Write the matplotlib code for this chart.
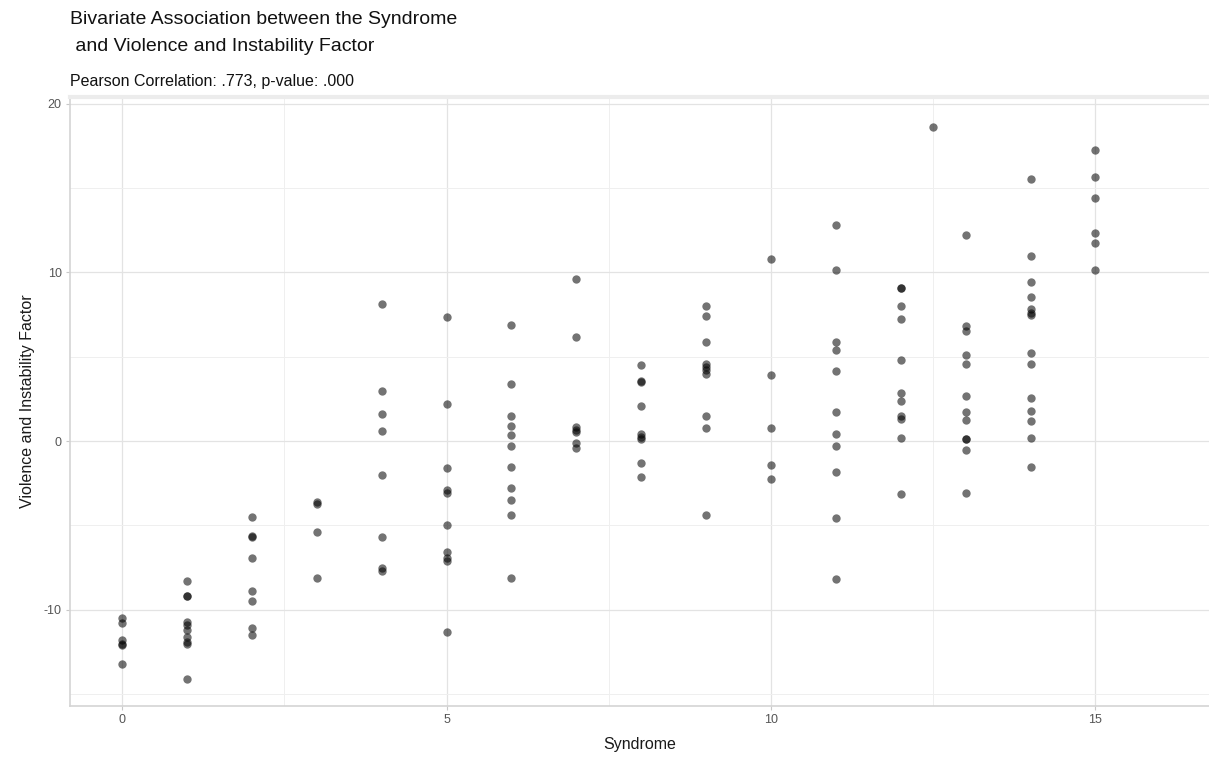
import numpy as np
import matplotlib
matplotlib.use("Agg")
import matplotlib.pyplot as plt
from matplotlib.ticker import MultipleLocator

plt.rcParams['font.family'] = ['Liberation Sans', 'DejaVu Sans']
plt.rcParams['axes.unicode_minus'] = False

# values, grouped by Syndrome score
syndrome_levels = [0, 1, 2, 3, 4, 5, 6, 7, 8, 9, 10, 11, 12, 12.5, 13, 14, 15]
factor_by_level = [
    [-10.5, -10.8, -11.8, -12.0, -12.1, -13.2],
    [-8.3, -9.2, -9.2, -10.7, -10.9, -11.2, -11.6, -11.9, -12.0, -14.1],
    [-4.5, -5.6, -5.7, -6.9, -8.9, -9.5, -11.1, -11.5],
    [-3.6, -3.7, -5.4, -8.1],
    [8.1, 3.0, 1.6, 0.6, -2.0, -5.7, -7.5, -7.7],
    [7.35, 2.2, -1.6, -2.9, -3.1, -5.0, -6.6, -6.9, -7.1, -11.3],
    [6.9, 3.4, 1.5, 0.9, 0.35, -0.3, -1.55, -2.8, -3.5, -4.4, -8.1],
    [9.6, 6.2, 0.85, 0.65, 0.55, -0.1, -0.4],
    [4.5, 3.55, 3.5, 2.1, 0.45, 0.25, 0.1, -1.3, -2.15],
    [8.0, 7.4, 5.9, 4.6, 4.4, 4.2, 3.95, 1.5, 0.75, -4.4],
    [10.8, 3.9, 0.8, -1.4, -2.25],
    [12.8, 10.15, 5.9, 5.4, 4.15, 1.7, 0.45, -0.3, -1.85, -4.55, -8.15],
    [9.1, 9.05, 8.0, 7.25, 4.8, 2.85, 2.4, 1.5, 1.3, 0.2, -3.15],
    [18.6],
    [12.2, 6.8, 6.55, 5.1, 4.6, 2.7, 1.75, 1.25, 0.15, 0.1, -0.5, -3.1],
    [15.55, 11.0, 9.45, 8.55, 7.85, 7.6, 7.45, 5.2, 4.55, 2.55, 1.8, 1.2, 0.2, -1.55],
    [17.25, 15.65, 14.4, 12.35, 11.75, 10.15],
]

syndrome = []
factor = []
for lvl, vals in zip(syndrome_levels, factor_by_level):
    for v in vals:
        syndrome.append(lvl)
        factor.append(v)

fig = plt.figure(figsize=(12.09, 7.64), dpi=100)
ax = fig.add_axes([0.058, 0.076, 0.942, 0.797])

ax.scatter(syndrome, factor, s=36, color='black', alpha=0.55, linewidths=0, zorder=3)

ax.set_xlim(-0.8, 16.75)
ax.set_ylim(-15.7, 20.4)
ax.xaxis.set_major_locator(MultipleLocator(5))
ax.xaxis.set_minor_locator(MultipleLocator(2.5))
ax.yaxis.set_major_locator(MultipleLocator(10))
ax.yaxis.set_minor_locator(MultipleLocator(5))

ax.grid(which='major', color='#e3e3e3', linewidth=0.9, zorder=0)
ax.grid(which='minor', color='#efefef', linewidth=0.7, zorder=0)
ax.set_axisbelow(True)

ax.spines['left'].set_color('#d4d4d4')
ax.spines['bottom'].set_color('#d4d4d4')
ax.spines['left'].set_linewidth(1.2)
ax.spines['bottom'].set_linewidth(1.2)
ax.spines['top'].set_color('#ececec')
ax.spines['top'].set_linewidth(3)
ax.spines['right'].set_visible(False)

ax.tick_params(which='major', length=3, color='#c8c8c8', labelsize=9, labelcolor='#555555', pad=3)
ax.tick_params(which='minor', length=0)

ax.set_xlabel('Syndrome', fontsize=11.5, color='#1a1a1a', labelpad=8)
ax.set_ylabel('Violence and Instability Factor', fontsize=11.5, color='#1a1a1a', labelpad=6)

fig.text(0.058, 0.985, 'Bivariate Association between the Syndrome\n and Violence and Instability Factor',
         fontsize=14, va='top', ha='left', color='#111111', linespacing=1.75)
fig.text(0.058, 0.884, 'Pearson Correlation: .773, p-value: .000',
         fontsize=11.5, va='bottom', ha='left', color='#111111')

fig.savefig('out.png', dpi=100)
